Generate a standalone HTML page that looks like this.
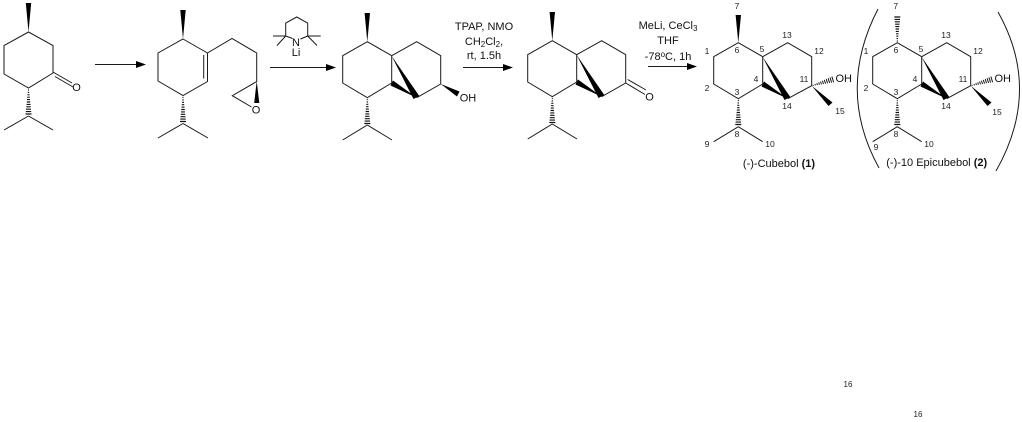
<!DOCTYPE html>
<html><head><meta charset="utf-8"><style>
html,body{margin:0;padding:0;background:#fff;width:1022px;height:422px;overflow:hidden}
svg{display:block}
text{font-family:"Liberation Sans",Arial,sans-serif;fill:#111;text-anchor:middle}
.t{font-size:11px}
.o{font-size:11px}
.n{font-size:8.5px;fill:#222}
.l{fill:none;stroke:#1a1a1a;stroke-width:1}
</style></head><body>
<svg width="1022" height="422" viewBox="0 0 1022 422" xmlns="http://www.w3.org/2000/svg">
<defs>
<!-- hashed wedge: narrow at origin, wide at y=27.5 -->
<g id="hd" stroke="#111" stroke-width="1.15" fill="none">
  <path d="M-.5 1.500H.5M-.7 3.900H.7M-1 6.300H1M-1.200 8.700H1.200M-1.500 11.100H1.500M-1.700 13.500H1.700M-2 15.900H2M-2.200 18.300H2.200M-2.500 20.700H2.500M-2.700 23.100H2.700M-3 25.500H3"/>
</g>
</defs>

<!-- Molecule 1 -->
<path class="l" d="M28.500 32L53 45.500V73L28.500 88L4 74V45.500Z"/>
<polygon points="28.500,32 25.800,3 31.200,3" fill="#000"/>
<path class="l" d="M53 72L72 83M55 76.500L73 87"/>
<text class="o" x="76.500" y="91">O</text>
<path class="l" d="M28.500 116L4 130M28.500 116L53 130"/>
<use href="#hd" transform="translate(28.500,88.500)"/>

<!-- Arrow 1 -->
<path class="l" d="M95 64.500H138"/><polygon points="146,64.500 136,61 136,68" fill="#000"/>

<!-- Molecule 2 -->
<path class="l" d="M183 39L207.500 53V81.500L183 95.500L158 81V53Z"/>
<path class="l" d="M203.700 55V78.500"/>
<polygon points="183,39 180.300,10 185.700,10" fill="#000"/>
<path class="l" d="M207.500 53L232 38.500L256.700 53V81.500L232.300 95.700L251.500 107"/>
<polygon points="256.700,81 254.200,103 259.300,103" fill="#000"/>
<text class="o" x="256" y="113.300">O</text>
<path class="l" d="M183 123.500L158 138M183 123.500L208 138"/>
<use href="#hd" transform="translate(183,96)"/>

<!-- TMP-Li -->
<path class="l" d="M292.500 38.500L285.700 36V23L296.700 17L307.700 23V36L300.500 39"/>
<path class="l" d="M285.700 36H273M285.700 36L277 45.500M307.700 36H320.700M307.700 36L317 45.500"/>
<text class="t" x="296" y="46">N</text>
<text class="t" x="296" y="56">Li</text>
<!-- Arrow 2 -->
<path class="l" d="M270 67.500H327"/><polygon points="336,67.500 326,64 326,71" fill="#000"/>

<!-- Molecule 3 -->
<g id="m3">
<path class="l" d="M367.300 41.700L391.700 55.700V83L367.300 97.700L342.700 83V55.700ZM391.700 55.700L416.700 41.700L440.700 55.700V84L416.700 97.700"/>
<polygon points="367.300,41.700 364.600,13 370,13" fill="#000"/>
<polygon points="391.500,55.700 419.300,96 413.500,99" fill="#000"/>
<polygon points="416.700,97.700 393,80.500 390.500,85.500" fill="#000"/>
<path class="l" d="M367.300 125L342.700 140M367.300 125L392 140"/>
<use href="#hd" transform="translate(367.300,98)"/>
</g>
<polygon points="440.700,84 459.500,91.500 457,96.500" fill="#000"/>
<text class="o" x="468" y="101.500">OH</text>

<!-- Reagents 3 -->
<text class="t" x="484" y="30">TPAP, NMO</text>
<text class="t" x="484" y="45">CH<tspan font-size="8" dy="2">2</tspan><tspan dy="-2">Cl</tspan><tspan font-size="8" dy="2">2</tspan><tspan dy="-2">,</tspan></text>
<text class="t" x="484" y="59">rt, 1.5h</text>
<path class="l" d="M463 67.500H504"/><polygon points="513,67.500 503,64 503,71" fill="#000"/>

<!-- Molecule 4 -->
<use href="#m3" x="185" y="-1"/>
<path class="l" d="M625.700 83L645 94.500M627.700 79.500L646 90"/>
<text class="o" x="649.500" y="100.500">O</text>

<!-- Reagents 4 -->
<text class="t" x="668" y="29">MeLi, CeCl<tspan font-size="8" dy="2">3</tspan></text>
<text class="t" x="668" y="44">THF</text>
<text class="t" x="668" y="60">-78<tspan font-size="8" dy="-3">o</tspan><tspan dy="3">C, 1h</tspan></text>
<path class="l" d="M648 66.500H689"/><polygon points="697,66.500 687,63 687,70" fill="#000"/>

<!-- Molecule 5: Cubebol -->
<g id="core">
<path class="l" d="M738.300 42.700L762.700 56.700V84L738.300 98.700L713.700 84V56.700ZM762.700 56.700L787.700 42.700L811.700 56.700V85.700L787.700 98.700"/>
<polygon points="762.500,56.700 790.300,97 784.500,100" fill="#000"/>
<polygon points="787.700,98.700 764,81.500 761.500,86.500" fill="#000"/>
<path class="l" d="M738.300 126.700L713.700 141.700M738.300 126.700L762.700 141.700"/>
<use href="#hd" transform="translate(738.300,99)"/>
<polygon points="811.700,85.700 832.500,102.500 828.500,106" fill="#000"/>
<use href="#hd" transform="translate(812,85.700) rotate(-106.900) scale(1,.85)"/>
<text class="o" x="843.700" y="82">OH</text>
<text class="n" x="737" y="53">6</text>
<text class="n" x="762" y="52">5</text>
<text class="n" x="756" y="82">4</text>
<text class="n" x="737" y="95">3</text>
<text class="n" x="737" y="137">8</text>
<text class="n" x="787" y="38">13</text>
<text class="n" x="819" y="54">12</text>
<text class="n" x="804" y="82">11</text>
<text class="n" x="787" y="109">14</text>
<text class="n" x="770" y="147">10</text>
</g>
<polygon points="738.300,42.700 735.600,15 741,15" fill="#000"/>
<text class="n" x="737" y="9">7</text>
<text class="n" x="707" y="54">1</text>
<text class="n" x="707" y="91">2</text>
<text class="n" x="707" y="147">9</text>
<text class="n" x="840" y="114">15</text>
<text class="t" x="779" y="167">(-)-Cubebol <tspan font-weight="bold">(1)</tspan></text>

<!-- Molecule 6: Epicubebol -->
<use href="#core" x="159" y="0"/>
<use href="#hd" transform="translate(897.300,42.500) rotate(180)"/>
<text class="n" x="895.700" y="9">7</text>
<text class="n" x="866" y="54">1</text>
<text class="n" x="866" y="91">2</text>
<text class="n" x="876" y="150">9</text>
<text class="n" x="997" y="115">15</text>
<text class="t" x="936.700" y="166">(-)-10 Epicubebol <tspan font-weight="bold">(2)</tspan></text>
<path class="l" d="M878 9Q836 90 879 168"/>
<path class="l" d="M998 12Q1042 90 996 171"/>

<text class="n" x="848" y="387" style="font-size:8px">16</text>
<text class="n" x="918" y="417" style="font-size:8px">16</text>
</svg>
</body></html>
